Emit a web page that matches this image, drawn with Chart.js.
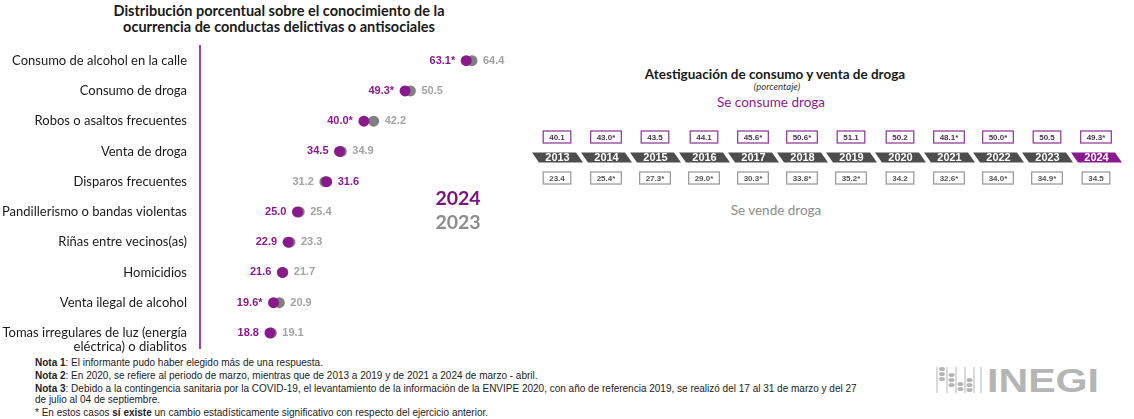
<!DOCTYPE html>
<html>
<head>
<meta charset="utf-8">
<script src="https://cdn.jsdelivr.net/npm/chart.js@4"></script>
<style>
  body { margin: 0; width: 1134px; height: 419px; background: #fff; position: relative; overflow: hidden; font-family: Lato, "Open Sans", sans-serif; }
  .abs { position: absolute; }
  .centro { text-align: center; white-space: nowrap; transform: translateX(-50%); }
  #tituloIzq { left: 279px; top: 3px; font-weight: bold; font-size: 14.5px; line-height: 16px; color: #1a1a1a; }
  #tituloDer { left: 775px; top: 66px; font-weight: bold; font-size: 13.5px; color: #1a1a1a; }
  #porcentaje { left: 777px; top: 81px; font-style: italic; font-size: 9.5px; color: #333; }
  #consume { left: 771px; top: 94px; font-size: 13.5px; color: #8a1a8c; }
  #vende { left: 776px; top: 202px; font-size: 13.5px; color: #8c8c8c; }
  .anio { font-weight: bold; font-size: 19.5px; line-height: 24px; left: 458px; }
  #notas { left: 35px; top: 357px; font-family: "Liberation Sans Narrow", "Liberation Sans", sans-serif; font-size: 10px; color: #222; }
  #notas div { line-height: 11px; margin-bottom: 2px; }
  #logo { left: 935px; top: 365px; }
</style>
</head>
<body>
<div id="tituloIzq" class="abs centro">Distribución porcentual sobre el conocimiento de la<br>ocurrencia de conductas delictivas o antisociales</div>
<div class="abs" style="left:0;top:40px;width:520px;height:315px"><canvas id="conductas"></canvas></div>
<div class="abs centro anio" style="top:186px;color:#7d1380">2024</div>
<div class="abs centro anio" style="top:210px;color:#8c8c8c">2023</div>

<div id="tituloDer" class="abs centro">Atestiguación de consumo y venta de droga</div>
<div id="porcentaje" class="abs centro">(porcentaje)</div>
<div id="consume" class="abs centro">Se consume droga</div>
<div class="abs" style="left:520px;top:120px;width:614px;height:80px"><canvas id="droga"></canvas></div>
<div id="vende" class="abs centro">Se vende droga</div>

<div id="notas" class="abs">
  <div><b>Nota 1</b>: El informante pudo haber elegido más de una respuesta.</div>
  <div><b>Nota 2</b>: En 2020, se refiere al periodo de marzo, mientras que de 2013 a 2019 y de 2021 a 2024 de marzo - abril.</div>
  <div><b>Nota 3</b>: Debido a la contingencia sanitaria por la COVID-19, el levantamiento de la información de la ENVIPE 2020, con año de referencia 2019, se realizó del 17 al 31 de marzo y del 27<br>de julio al 04 de septiembre.</div>
  <div>* En estos casos <b>sí existe</b> un cambio estadísticamente significativo con respecto del ejercicio anterior.</div>
</div>

<div id="logo" class="abs">
  <svg width="170" height="30" viewBox="0 0 170 30">
    <g stroke="#b5b5b5" stroke-width="1">
      <line x1="2" y1="2" x2="2" y2="28"/><line x1="12" y1="2" x2="12" y2="28"/>
      <line x1="21" y1="2" x2="21" y2="28"/><line x1="30" y1="2" x2="30" y2="28"/>
      <line x1="39" y1="2" x2="39" y2="28"/><line x1="46" y1="2" x2="46" y2="28"/>
    </g>
    <g fill="#b5b5b5">
      <ellipse cx="7" cy="4" rx="3" ry="2"/><ellipse cx="7" cy="9" rx="3" ry="2"/><ellipse cx="7" cy="14" rx="3" ry="2"/>
      <ellipse cx="16.5" cy="10" rx="3" ry="2"/><ellipse cx="16.5" cy="15" rx="3" ry="2"/><ellipse cx="16.5" cy="20" rx="3" ry="2"/>
      <ellipse cx="25.5" cy="19" rx="3" ry="2"/><ellipse cx="25.5" cy="24" rx="3" ry="2"/>
      <ellipse cx="34.5" cy="15" rx="3" ry="2"/><ellipse cx="34.5" cy="20" rx="3" ry="2"/><ellipse cx="34.5" cy="25" rx="3" ry="2"/>
    </g>
    <text x="52" y="27" font-family="Liberation Sans, Arial" font-weight="bold" font-size="34" fill="#b5b5b5" textLength="112" lengthAdjust="spacingAndGlyphs">INEGI</text>
  </svg>
</div>

<script>
// conductas delictivas o antisociales
var conductas = [
  'Consumo de alcohol en la calle',
  'Consumo de droga',
  'Robos o asaltos frecuentes',
  'Venta de droga',
  'Disparos frecuentes',
  'Pandillerismo o bandas violentas',
  'Riñas entre vecinos(as)',
  'Homicidios',
  'Venta ilegal de alcohol',
  ['', 'Tomas irregulares de luz (energía', 'eléctrica) o diablitos']
];
var valores2024 = [63.1, 49.3, 40.0, 34.5, 31.6, 25.0, 22.9, 21.6, 19.6, 18.8];
var valores2023 = [64.4, 50.5, 42.2, 34.9, 31.2, 25.4, 23.3, 21.7, 20.9, 19.1];
var cambio2024 = [true, true, true, false, false, false, false, false, true, false];

// atestiguacion de consumo y venta de droga
var anios = ['2013','2014','2015','2016','2017','2018','2019','2020','2021','2022','2023','2024'];
var seConsume = [40.1, 43.0, 43.5, 44.1, 45.6, 50.6, 51.1, 50.2, 48.1, 50.0, 50.5, 49.3];
var cambioConsume = [false, true, false, false, true, true, false, false, true, true, false, true];
var seVende = [23.4, 25.4, 27.3, 29.0, 30.3, 33.8, 35.2, 34.2, 32.6, 34.0, 34.9, 34.5];
var cambioVende = [false, true, true, true, true, true, true, false, true, true, true, false];
var filas = ['consume', 'anio', 'vende'];

var morado = '#8a1a8c';
var gris = '#7f7f7f';

var etiquetasPlugin = {
  id: 'etiquetas',
  afterDatasetsDraw: function(chart) {
    var ctx = chart.ctx;
    var p24 = chart.getDatasetMeta(0).data;
    var p23 = chart.getDatasetMeta(1).data;
    ctx.save();
    ctx.font = 'bold 11px "Liberation Sans", Arial, sans-serif';
    ctx.textBaseline = 'middle';
    p24.forEach(function(p, i) {
      var q = p23[i];
      var t24 = valores2024[i].toFixed(1) + (cambio2024[i] ? '*' : '');
      var t23 = valores2023[i].toFixed(1);
      var izq = Math.min(p.x, q.x) - 11;
      var der = Math.max(p.x, q.x) + 11;
      if (valores2024[i] <= valores2023[i]) {
        ctx.fillStyle = morado; ctx.textAlign = 'right'; ctx.fillText(t24, izq, p.y);
        ctx.fillStyle = '#a3a3a3'; ctx.textAlign = 'left'; ctx.fillText(t23, der, q.y);
      } else {
        ctx.fillStyle = '#a3a3a3'; ctx.textAlign = 'right'; ctx.fillText(t23, izq, q.y);
        ctx.fillStyle = morado; ctx.textAlign = 'left'; ctx.fillText(t24, der, p.y);
      }
    });
    ctx.restore();
  }
};

new Chart(document.getElementById('conductas').getContext('2d'), {
  type: 'line',
  data: {
    labels: conductas,
    datasets: [
      { label: '2024', data: valores2024, showLine: false, pointRadius: 5.5, pointBackgroundColor: morado, pointBorderWidth: 0 },
      { label: '2023', data: valores2023, showLine: false, pointRadius: 5.5, pointBackgroundColor: gris, pointBorderWidth: 0 }
    ]
  },
  options: {
    indexAxis: 'y',
    responsive: true,
    maintainAspectRatio: false,
    animation: false,
    layout: { padding: { top: 2, bottom: 7, right: 0, left: 0 } },
    plugins: { legend: { display: false }, tooltip: { enabled: false } },
    scales: {
      x: { type: 'linear', display: false, min: 3, max: 74 },
      y: {
        type: 'category',
        offset: true,
        grid: { display: false },
        border: { display: true, color: '#a340a6', width: 2 },
        afterFit: function(scale) {
          scale.width = 200;
          scale.paddingTop = 0;
          scale.paddingBottom = 0;
        },
        ticks: {
          autoSkip: false,
          padding: 5,
          color: '#1a1a1a',
          font: { family: 'Lato', size: 13, lineHeight: 1.05 }
        }
      }
    }
  },
  plugins: [etiquetasPlugin]
});

function caja(ctx, x, y, texto, borde, color) {
  ctx.font = 'bold 8px "Liberation Sans", Arial, sans-serif';
  var w = Math.max(27, ctx.measureText(texto).width + 12);
  var h = 12;
  ctx.fillStyle = '#fff';
  ctx.fillRect(x - w / 2, y - h / 2, w, h);
  ctx.strokeStyle = borde;
  ctx.lineWidth = 1.3;
  ctx.strokeRect(x - w / 2, y - h / 2, w, h);
  ctx.fillStyle = color;
  ctx.textAlign = 'center';
  ctx.textBaseline = 'middle';
  ctx.fillText(texto, x, y + 0.5);
}

var drogaPlugin = {
  id: 'droga',
  afterDatasetsDraw: function(chart) {
    var ctx = chart.ctx;
    ctx.save();
    chart.getDatasetMeta(0).data.forEach(function(p, i) {
      caja(ctx, p.x, p.y, seConsume[i].toFixed(1) + (cambioConsume[i] ? '*' : ''), '#93409a', '#4a3050');
    });
    chart.getDatasetMeta(2).data.forEach(function(p, i) {
      caja(ctx, p.x, p.y, seVende[i].toFixed(1) + (cambioVende[i] ? '*' : ''), '#9c9c9c', '#555');
    });
    chart.getDatasetMeta(1).data.forEach(function(p, i) {
      var top = p.y - 5, bot = p.y + 5;
      ctx.beginPath();
      ctx.moveTo(p.x - 25, top);
      ctx.lineTo(p.x + 19, top);
      ctx.lineTo(p.x + 26, bot);
      ctx.lineTo(p.x - 18, bot);
      ctx.closePath();
      ctx.fillStyle = i === anios.length - 1 ? '#8a1a8c' : '#4d4d4d';
      ctx.fill();
      ctx.fillStyle = '#fff';
      ctx.font = 'bold 11px "Liberation Sans", Arial, sans-serif';
      ctx.textAlign = 'center';
      ctx.textBaseline = 'middle';
      ctx.fillText(anios[i], p.x + 0.5, p.y + 0.5);
    });
    ctx.restore();
  }
};

new Chart(document.getElementById('droga').getContext('2d'), {
  type: 'line',
  data: {
    labels: anios,
    datasets: [
      { label: 'Se consume droga', data: anios.map(function() { return 'consume'; }), showLine: false, pointRadius: 0 },
      { label: 'Año', data: anios.map(function() { return 'anio'; }), showLine: false, pointRadius: 0 },
      { label: 'Se vende droga', data: anios.map(function() { return 'vende'; }), showLine: false, pointRadius: 0 }
    ]
  },
  options: {
    responsive: true,
    maintainAspectRatio: false,
    animation: false,
    layout: { padding: { top: 6.75, bottom: 11.75, left: 12.5, right: 13.5 } },
    plugins: { legend: { display: false }, tooltip: { enabled: false } },
    scales: {
      x: { type: 'category', display: false, offset: true },
      y: { type: 'category', labels: filas, display: false, offset: true }
    }
  },
  plugins: [drogaPlugin]
});
</script>
</body>
</html>
